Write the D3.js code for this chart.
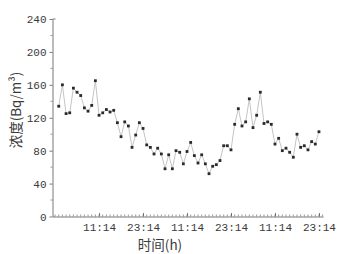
<!DOCTYPE html>
<html lang="zh">
<head>
  <meta charset="UTF-8">
  <title>浓度</title>
  <script src="https://d3js.org/d3.v7.min.js"></script>
  <style>
    body { margin: 0; background: #fff; }
  </style>
</head>
<body>
  <script>
    var svgWidth = 349;
    var svgHeight = 254;

    // hourly readings, first at 0:14 of day 1
    var values = [
      134, 160, 125, 126, 156, 151, 147, 132, 128, 135, 165, 123,
      126, 130, 127, 129, 114, 97, 115, 110, 84, 99, 114, 107,
      87, 84, 76, 83, 76, 58, 75, 58, 80, 78, 64, 79,
      90, 74, 65, 75, 64, 52, 61, 63, 68, 86, 86, 81,
      112, 131, 110, 115, 143, 108, 123, 151, 113, 115, 112, 88,
      95, 80, 83, 78, 72, 100, 84, 86, 81, 91, 88, 103
    ];
    var xTickIdx = [11, 23, 35, 47, 59, 71];
    var xTickLabels = ["11:14", "23:14", "11:14", "23:14", "11:14", "23:14"];
    var yTicks = [0, 40, 80, 120, 160, 200, 240];

    var plotLeft = 52.5, plotRight = 323, plotTop = 19, plotBottom = 216.5;

    var svg = d3.select("body")
                .append("svg")
                .attr("width", svgWidth)
                .attr("height", svgHeight);

    var x = d3.scaleLinear().domain([-1.7, 72.1]).range([plotLeft, plotRight]);
    var y = d3.scaleLinear().domain([0, 240]).range([plotBottom, plotTop]);

    var axisColor = "#555";
    var textColor = "#3a3a3a";
    var tickFont = "'Liberation Mono', monospace";

    // x axis: hourly minor ticks, major at labels (pointing up)
    var xAxis = d3.axisBottom(x)
                  .tickValues(xTickIdx)
                  .tickFormat((d, i) => xTickLabels[i])
                  .tickSizeInner(-3.5)
                  .tickSizeOuter(0)
                  .tickPadding(7);
    var gx = svg.append("g")
                .attr("transform", "translate(0," + plotBottom + ")")
                .call(xAxis);
    gx.selectAll("text")
      .style("font-family", tickFont)
      .style("font-size", "11px")
      .attr("fill", textColor);

    var minor = d3.range(-1, 73);
    svg.append("g")
       .selectAll("line")
       .data(minor)
       .enter()
       .append("line")
       .attr("x1", d => x(d))
       .attr("x2", d => x(d))
       .attr("y1", plotBottom)
       .attr("y2", plotBottom - 2)
       .attr("stroke", axisColor)
       .attr("stroke-width", 0.6);

    // y axis
    var yAxis = d3.axisLeft(y)
                  .tickValues(yTicks)
                  .tickSizeInner(3)
                  .tickSizeOuter(0)
                  .tickPadding(3);
    var gy = svg.append("g")
                .attr("transform", "translate(" + plotLeft + ",0)")
                .call(yAxis);
    gy.selectAll("text")
      .style("font-family", tickFont)
      .style("font-size", "11px")
      .attr("fill", textColor);

    svg.append("g")
       .selectAll("line")
       .data(d3.range(20, 240, 40))
       .enter()
       .append("line")
       .attr("x1", plotLeft)
       .attr("x2", plotLeft - 2)
       .attr("y1", d => y(d))
       .attr("y2", d => y(d))
       .attr("stroke", axisColor)
       .attr("stroke-width", 0.6);

    // top stub at 240
    svg.append("line")
       .attr("x1", plotLeft).attr("x2", plotLeft + 3)
       .attr("y1", y(240)).attr("y2", y(240))
       .attr("stroke", axisColor).attr("stroke-width", 0.8);

    svg.selectAll(".domain, .tick line")
       .attr("stroke", axisColor)
       .attr("stroke-width", 0.8);

    // data line and markers
    var line = d3.line()
                 .x((d, i) => x(i))
                 .y(d => y(d));

    svg.append("path")
       .datum(values)
       .attr("d", line)
       .attr("fill", "none")
       .attr("stroke", "#b5b5b5")
       .attr("stroke-width", 0.8);

    svg.selectAll("rect.pt")
       .data(values)
       .enter()
       .append("rect")
       .attr("class", "pt")
       .attr("x", (d, i) => x(i) - 1.4)
       .attr("y", d => y(d) - 1.4)
       .attr("width", 2.8)
       .attr("height", 2.8)
       .style("fill", "#2a2a2a");

    // axis titles
    svg.append("text")
       .attr("x", 160)
       .attr("y", 250)
       .attr("text-anchor", "middle")
       .style("font-family", "'Noto Sans CJK SC', sans-serif")
       .style("font-size", "13.5px")
       .attr("fill", textColor)
       .text("时间(h)");

    svg.append("text")
       .attr("transform", "translate(21,110) rotate(-90)")
       .attr("text-anchor", "middle")
       .style("font-family", "'Noto Sans CJK SC', sans-serif")
       .style("font-size", "13.5px")
       .attr("fill", textColor)
       .text("浓度(Bq/m³)");
  </script>
</body>
</html>
